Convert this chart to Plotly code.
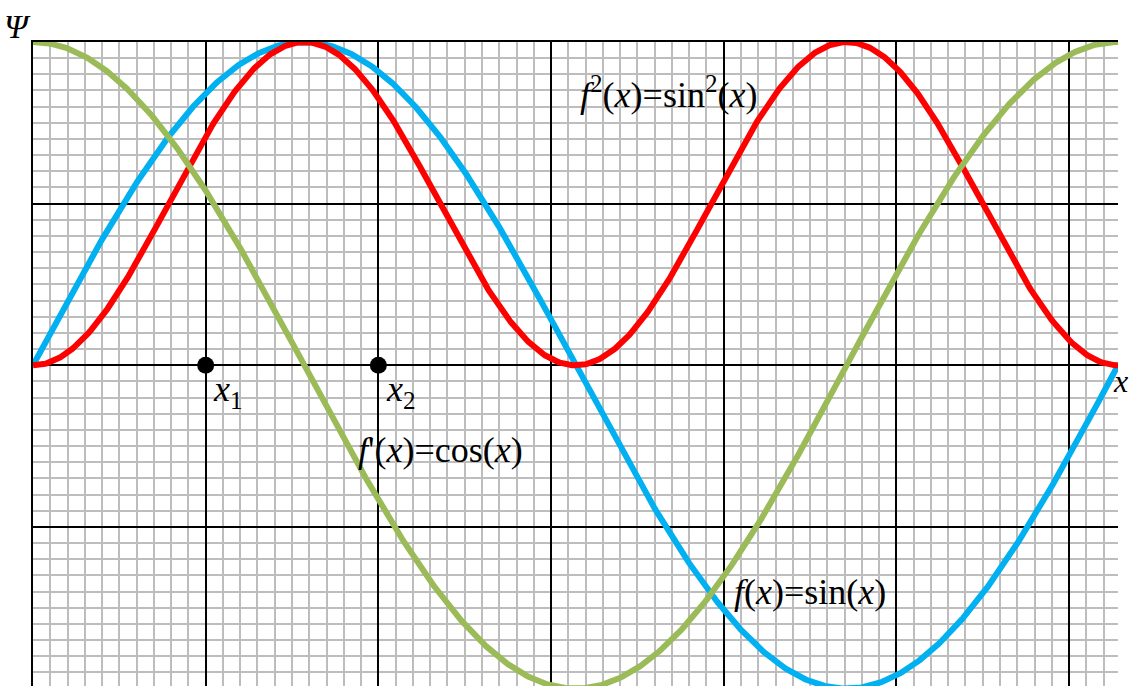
import numpy as np
import plotly.graph_objects as go

# Sample points across one full period
x_vals = np.linspace(0, 2 * np.pi, 800)
f_vals = np.sin(x_vals)          # f(x) = sin(x)
df_vals = np.cos(x_vals)         # f'(x) = cos(x)
f2_vals = np.sin(x_vals) ** 2    # f^2(x) = sin^2(x)

# Marked points on the x axis
point_x = [1, 2]
point_y = [0, 0]
point_names = ["1", "2"]

SERIF = "Liberation Serif, Times New Roman, serif"

fig = go.Figure()
fig.add_trace(go.Scatter(x=x_vals, y=f_vals, mode="lines",
                         line=dict(color="#00B0F0", width=6)))
fig.add_trace(go.Scatter(x=x_vals, y=f2_vals, mode="lines",
                         line=dict(color="#FF0000", width=6)))
fig.add_trace(go.Scatter(x=x_vals, y=df_vals, mode="lines",
                         line=dict(color="#9BBB59", width=6)))
fig.add_trace(go.Scatter(x=point_x, y=point_y, mode="markers",
                         marker=dict(color="black", size=17), cliponaxis=False))

labels = [
    (3.68, 0.845, "<i>f</i><sup>2</sup>(<i>x</i>)=sin<sup>2</sup>(<i>x</i>)"),
    (2.36, -0.263, "<i>f</i>'(<i>x</i>)=cos(<i>x</i>)"),
    (4.50, -0.70, "<i>f</i>(<i>x</i>)=sin(<i>x</i>)"),
]
annotations = []
for lx, ly, txt in labels:
    annotations.append(dict(x=lx, y=ly, xref="x", yref="y", text=txt,
                            showarrow=False, xanchor="center", yanchor="middle",
                            font=dict(family=SERIF, size=36, color="black")))
for px, name in zip(point_x, point_names):
    annotations.append(dict(x=px + 0.03, y=-0.005, xref="x", yref="y",
                            text="<i>x</i><sub>" + name + "</sub>",
                            showarrow=False, xanchor="left", yanchor="top",
                            font=dict(family=SERIF, size=36, color="black")))
annotations.append(dict(x=-0.014, y=1.024, xref="paper", yref="paper", text="<i>Ψ</i>",
                        showarrow=False, xanchor="center", yanchor="middle",
                        font=dict(family=SERIF, size=34, color="black")))
annotations.append(dict(x=1.0115, y=-0.05, xref="paper", yref="y", text="<i>x</i>",
                        showarrow=False, xanchor="right", yanchor="middle",
                        font=dict(family=SERIF, size=32, color="black")))

fig.update_layout(
    width=1131, height=686,
    margin=dict(l=33, r=13, t=42, b=0),
    paper_bgcolor="white", plot_bgcolor="white",
    showlegend=False,
    annotations=annotations,
    xaxis=dict(range=[0, 2 * np.pi], tick0=0, dtick=1, showticklabels=False,
               ticks="", showgrid=True, gridcolor="black", gridwidth=2,
               zeroline=True, zerolinecolor="black", zerolinewidth=2,
               showline=True, linecolor="black", linewidth=2, side="top",
               minor=dict(tick0=0, dtick=0.1, showgrid=True,
                          gridcolor="#BDBDBD", gridwidth=2, ticks="")),
    yaxis=dict(range=[-0.992, 1], tick0=0, dtick=0.5, showticklabels=False,
               ticks="", showgrid=True, gridcolor="black", gridwidth=2,
               zeroline=True, zerolinecolor="black", zerolinewidth=2,
               showline=True, linecolor="black", linewidth=2,
               minor=dict(tick0=0, dtick=0.05, showgrid=True,
                          gridcolor="#BDBDBD", gridwidth=2, ticks="")),
)

fig.write_html("out.html")
